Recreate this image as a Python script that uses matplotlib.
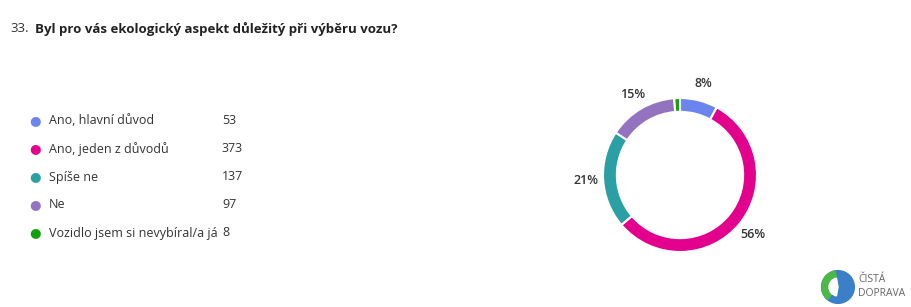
import matplotlib.pyplot as plt
from matplotlib.patches import Circle, Wedge

plt.rcParams['font.family'] = ['Open Sans', 'DejaVu Sans']

# Data
question_no = "33."
question = "Byl pro vás ekologický aspekt důležitý při výběru vozu?"
categories = ["Ano, hlavní důvod", "Ano, jeden z důvodů", "Spíše ne", "Ne",
              "Vozidlo jsem si nevybíral/a já"]
counts = [53, 373, 137, 97, 8]
colors = ["#6B84EE", "#E3008C", "#2A9FA4", "#9373C0", "#13A10E"]

W, H = 911, 307
fig = plt.figure(figsize=(W / 100, H / 100), dpi=100)
fig.patch.set_facecolor("white")

# Title
fig.text(10 / W, 1 - 29 / H, question_no, fontsize=9.5, color="#333333", va="center")
fig.text(35 / W, 1 - 29 / H, question, fontsize=9.5, color="#222222",
         fontweight="bold", va="center")

# Legend list
for i, (cat, n, c) in enumerate(zip(categories, counts, colors)):
    y = 1 - (121 + 28 * i) / H
    fig.text(35 / W, y, "\u25CF", fontsize=9.5, color=c, va="center", ha="center")
    fig.text(49 / W, y, cat, fontsize=9, color="#333333", va="center")
    fig.text(222 / W, y, str(n), fontsize=9, color="#333333", va="center")

# Donut
cx, cy, r = 680, 175, 77
ax = fig.add_axes([(cx - 2 * r) / W, 1 - (cy + 2 * r) / H, 4 * r / W, 4 * r / H])


def pct(p):
    return f"{p:.0f}%" if p >= 2 else ""


wedges, texts, autotexts = ax.pie(
    counts, colors=colors, startangle=90, counterclock=False, radius=1,
    autopct=pct, pctdistance=1.22,
    wedgeprops=dict(width=0.18, edgecolor="white", linewidth=1.5),
    textprops=dict(fontsize=9, color="#333333", fontweight="semibold"))
ax.set_xlim(-2, 2)
ax.set_ylim(-2, 2)
ax.set_aspect("equal")
ax.axis("off")

# Logo
lax = fig.add_axes([(838 - 18) / W, 1 - (287 + 18) / H, 36 / W, 36 / H])
lax.add_patch(Circle((0, 0), 1, color="#3A7FC8"))
lax.add_patch(Wedge((0, 0), 1, 100, 230, color="#4CB848"))
lax.add_patch(Wedge((0, 0), 0.55, 100, 260, color="white"))
lax.set_xlim(-1.1, 1.1)
lax.set_ylim(-1.1, 1.1)
lax.set_aspect("equal")
lax.axis("off")
fig.text(858 / W, 1 - 280 / H, "ČISTÁ", fontsize=7.5, color="#666666", va="center")
fig.text(858 / W, 1 - 294 / H, "DOPRAVA", fontsize=7.5, color="#666666", va="center")

fig.savefig("out.png", dpi=100)
